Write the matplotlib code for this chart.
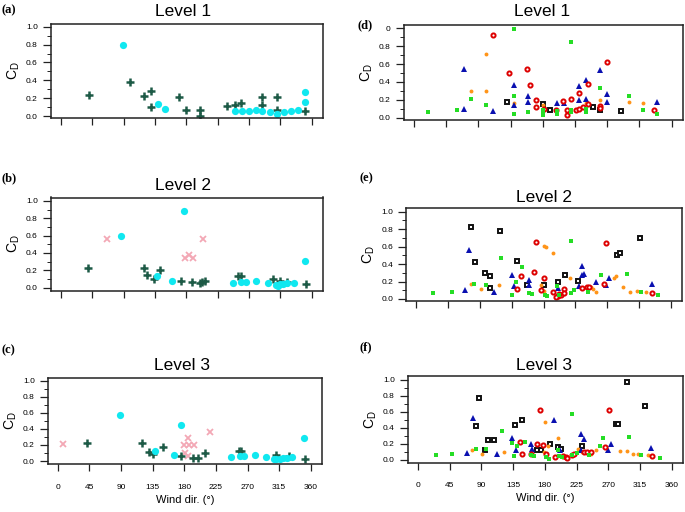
import matplotlib
matplotlib.use('Agg')
import matplotlib.pyplot as plt
import numpy as np

plt.rcParams['font.family'] = ['Liberation Sans', 'DejaVu Sans']

# ---- data (wind direction in deg, drag coefficient) ----
# left column: (a) level 1, (b) level 2, (c) level 3
a_plus_dir = [40, 99, 119, 130, 129, 169, 179, 200, 200, 239, 250, 259, 289, 289, 310, 310, 350]
a_plus_cd = [0.24, 0.38, 0.23, 0.28, 0.10, 0.22, 0.07, 0.07, 0.0, 0.11, 0.13, 0.15, 0.22, 0.12, 0.22, 0.07, 0.06]
a_cyan_dir = [89, 139, 149, 250, 260, 270, 280, 289, 300, 310, 320, 330, 340, 350, 350]
a_cyan_cd = [0.80, 0.14, 0.08, 0.06, 0.06, 0.06, 0.07, 0.06, 0.05, 0.03, 0.05, 0.06, 0.07, 0.16, 0.27]

b_plus_dir = [39, 119, 123, 133, 143, 173, 188, 200, 203, 207, 254, 259, 305, 314, 325, 352]
b_plus_cd = [0.23, 0.23, 0.15, 0.10, 0.20, 0.08, 0.06, 0.05, 0.06, 0.08, 0.13, 0.14, 0.10, 0.08, 0.06, 0.04]
b_cyan_dir = [87, 177, 138, 160, 247, 259, 266, 280, 297, 309, 311, 314, 319, 325, 335, 350]
b_cyan_cd = [0.60, 0.88, 0.13, 0.08, 0.05, 0.06, 0.06, 0.08, 0.05, 0.03, 0.02, 0.04, 0.04, 0.05, 0.05, 0.31]
b_pink_dir = [66, 178, 184, 190, 204]
b_pink_cd = [0.56, 0.34, 0.38, 0.34, 0.56]

c_plus_dir = [42, 120, 130, 135, 150, 176, 192, 200, 210, 258, 261, 311, 329, 352]
c_plus_cd = [0.23, 0.22, 0.11, 0.09, 0.17, 0.06, 0.04, 0.04, 0.10, 0.12, 0.12, 0.07, 0.06, 0.02]
c_cyan_dir = [89, 176, 138, 166, 247, 259, 265, 281, 297, 307, 311, 316, 321, 326, 334, 350]
c_cyan_cd = [0.57, 0.45, 0.12, 0.08, 0.05, 0.06, 0.06, 0.08, 0.05, 0.03, 0.02, 0.03, 0.04, 0.04, 0.05, 0.29]
c_pink_dir = [7, 185, 179, 186, 194, 181, 185, 216]
c_pink_cd = [0.21, 0.29, 0.195, 0.195, 0.195, 0.095, 0.066, 0.36]

# right column: (d) level 1, (e) level 2, (f) level 3
d_black_dir = [130, 180, 190, 250, 260, 290]
d_black_cd = [0.18, 0.15, 0.09, 0.12, 0.09, 0.08]
d_orange_dir = [100, 80, 100, 140, 180, 240, 260, 300, 320]
d_orange_cd = [0.71, 0.30, 0.30, 0.16, 0.14, 0.16, 0.20, 0.18, 0.16]
d_blue_dir = [70, 70, 110, 140, 140, 160, 160, 200, 210, 230, 230, 240, 240, 260, 270, 270, 340]
d_blue_cd = [0.55, 0.10, 0.08, 0.37, 0.14, 0.24, 0.18, 0.17, 0.17, 0.35, 0.20, 0.42, 0.21, 0.53, 0.26, 0.18, 0.18]
d_red_dir = [110, 133, 158, 162, 170, 170, 181, 198, 208, 214, 214, 220, 226, 230, 230, 236, 243, 243, 260, 260, 270, 336]
d_red_cd = [0.93, 0.50, 0.55, 0.37, 0.20, 0.12, 0.10, 0.09, 0.19, 0.09, 0.03, 0.21, 0.09, 0.28, 0.10, 0.12, 0.38, 0.15, 0.13, 0.11, 0.62, 0.09]
d_green_dir = [140, 220, 20, 60, 80, 100, 140, 140, 160, 180, 180, 180, 200, 200, 220, 220, 240, 240, 260, 300, 320, 340]
d_green_cd = [0.99, 0.85, 0.06, 0.09, 0.21, 0.14, 0.24, 0.04, 0.06, 0.09, 0.05, 0.03, 0.08, 0.04, 0.09, 0.06, 0.10, 0.06, 0.33, 0.24, 0.09, 0.04]

e_black_dir = [78, 119, 83, 97, 104, 104, 143, 156, 180, 201, 211, 229, 284, 288, 316]
e_black_cd = [0.82, 0.78, 0.42, 0.30, 0.26, 0.13, 0.44, 0.16, 0.16, 0.20, 0.27, 0.21, 0.50, 0.53, 0.70]
e_orange_dir = [181, 184, 193, 78, 92, 117, 177, 181, 217, 247, 250, 254, 280, 282, 292, 302, 313, 325]
e_orange_cd = [0.61, 0.59, 0.53, 0.17, 0.11, 0.16, 0.16, 0.09, 0.24, 0.14, 0.12, 0.08, 0.24, 0.26, 0.14, 0.08, 0.09, 0.08]
e_blue_dir = [74, 69, 110, 136, 138, 160, 160, 200, 230, 234, 234, 237, 254, 269, 272, 333]
e_blue_cd = [0.56, 0.10, 0.08, 0.28, 0.15, 0.22, 0.16, 0.13, 0.15, 0.38, 0.28, 0.29, 0.19, 0.16, 0.24, 0.17]
e_red_dir = [169, 269, 166, 148, 143, 180, 177, 193, 200, 205, 209, 209, 202, 198, 234, 241, 245, 265, 333]
e_red_cd = [0.65, 0.64, 0.31, 0.26, 0.12, 0.24, 0.10, 0.08, 0.04, 0.05, 0.12, 0.07, 0.06, 0.02, 0.13, 0.14, 0.14, 0.17, 0.07]
e_green_dir = [219, 120, 149, 141, 81, 98, 24, 51, 135, 160, 164, 182, 185, 199, 202, 219, 223, 243, 262, 298, 318, 342]
e_green_cd = [0.67, 0.47, 0.37, 0.20, 0.17, 0.16, 0.07, 0.08, 0.05, 0.07, 0.06, 0.05, 0.03, 0.15, 0.05, 0.07, 0.10, 0.08, 0.28, 0.29, 0.08, 0.05]

f_black_dir = [296, 86, 322, 82, 138, 147, 281, 284, 99, 108, 95, 169, 174, 188, 199, 203, 233]
f_black_cd = [0.97, 0.78, 0.67, 0.42, 0.44, 0.50, 0.45, 0.45, 0.25, 0.25, 0.12, 0.12, 0.12, 0.20, 0.16, 0.14, 0.18]
f_orange_dir = [180, 77, 91, 122, 184, 179, 199, 227, 233, 245, 252, 286, 296, 305, 312, 327]
f_orange_cd = [0.47, 0.13, 0.08, 0.10, 0.17, 0.10, 0.28, 0.14, 0.10, 0.08, 0.12, 0.11, 0.11, 0.08, 0.07, 0.06]
f_blue_dir = [78, 193, 70, 112, 134, 139, 160, 162, 232, 236, 232, 274, 270, 330, 202]
f_blue_cd = [0.53, 0.50, 0.09, 0.07, 0.27, 0.13, 0.20, 0.14, 0.32, 0.26, 0.13, 0.20, 0.13, 0.15, 0.12]
f_red_dir = [173, 271, 145, 147, 169, 178, 160, 181, 195, 206, 210, 212, 218, 222, 235, 240, 246, 266, 332]
f_red_cd = [0.62, 0.63, 0.23, 0.08, 0.20, 0.19, 0.07, 0.07, 0.04, 0.05, 0.04, 0.02, 0.06, 0.07, 0.10, 0.10, 0.10, 0.16, 0.05]
f_green_dir = [219, 120, 299, 263, 133, 152, 140, 82, 97, 26, 48, 136, 160, 165, 181, 186, 199, 200, 205, 218, 226, 242, 258, 317, 343]
f_green_cd = [0.58, 0.36, 0.29, 0.28, 0.21, 0.23, 0.18, 0.14, 0.14, 0.06, 0.07, 0.05, 0.06, 0.05, 0.04, 0.01, 0.13, 0.05, 0.04, 0.06, 0.09, 0.06, 0.18, 0.06, 0.03]

dir_ticks = [0, 45, 90, 135, 180, 225, 270, 315, 360]
cd_ticks = [0.0, 0.2, 0.4, 0.6, 0.8, 1.0]

# ---- figure ----
W, H = 685, 512
fig = plt.figure(figsize=(W / 100, H / 100), dpi=100)


def add_ax(l, t, r, b):
    # axes placed in pixel coords (from top-left)
    return fig.add_axes([l / W, 1 - b / H, (r - l) / W, (b - t) / H])


def style_ax(ax, ylim, show_x=False, top_label='1.0'):
    ax.set_xlim(-14, 376)
    ax.set_ylim(*ylim)
    for s in ax.spines.values():
        s.set_linewidth(1.1)
        s.set_color('#222222')
    ax.set_xticks(dir_ticks)
    ax.set_yticks(cd_ticks)
    ax.set_yticks(np.arange(0.1, 1.0, 0.2), minor=True)
    labels = ['%.1f' % v for v in cd_ticks]
    labels[-1] = top_label
    ax.set_yticklabels(labels)
    ax.tick_params(axis='both', direction='out', width=0.9, color='#222222', labelsize=6)
    ax.tick_params(axis='y', which='major', length=5.5, pad=4)
    ax.tick_params(axis='y', which='minor', length=3)
    ax.tick_params(axis='x', length=5, pad=9)
    if show_x:
        ax.set_xticklabels([str(v) for v in dir_ticks])
        ax.set_xlabel('Wind dir. (°)', fontsize=8, labelpad=3)
    else:
        ax.set_xticklabels([])
    ax.set_ylabel('C$_\\mathregular{D}$', fontsize=10, labelpad=3)


def left_panel(ax, plus, cyan, pink=None):
    if pink is not None:
        ax.plot(pink[0], pink[1], linestyle='none', marker='x', ms=4, mew=1.3, color='#f3a8b5')
    ax.plot(plus[0], plus[1], linestyle='none', marker='+', ms=6, mew=1.8, color='#1d5a46')
    ax.plot(cyan[0], cyan[1], linestyle='none', marker='o', ms=5.2, mew=0, color='#10e8f0')


def right_panel(ax, black, orange, blue, red, green):
    ax.plot(black[0], black[1], linestyle='none', marker='s', ms=3.0, mfc='white', mec='#111111', mew=1.4)
    ax.plot(orange[0], orange[1], linestyle='none', marker='o', ms=2.8, mew=0, color='#ff9418')
    ax.plot(blue[0], blue[1], linestyle='none', marker='^', ms=3.8, mew=0, color='#0a10b0')
    ax.plot(red[0], red[1], linestyle='none', marker='o', ms=3.0, mfc='white', mec='#dd0000', mew=1.4)
    ax.plot(green[0], green[1], linestyle='none', marker='s', ms=3.2, mew=0, color='#25dd25')


# left column
ax_a = add_ax(51, 24, 323, 118)
left_panel(ax_a, (a_plus_dir, a_plus_cd), (a_cyan_dir, a_cyan_cd))
style_ax(ax_a, (-0.02, 1.03))

ax_b = add_ax(51, 197.5, 323, 290.7)
left_panel(ax_b, (b_plus_dir, b_plus_cd), (b_cyan_dir, b_cyan_cd), (b_pink_dir, b_pink_cd))
style_ax(ax_b, (-0.035, 1.04))

ax_c = add_ax(48, 377.7, 322, 464.3)
left_panel(ax_c, (c_plus_dir, c_plus_cd), (c_cyan_dir, c_cyan_cd), (c_pink_dir, c_pink_cd))
style_ax(ax_c, (-0.04, 1.036), show_x=True)

# right column
ax_d = add_ax(404, 24.7, 683, 120)
right_panel(ax_d, (d_black_dir, d_black_cd), (d_orange_dir, d_orange_cd), (d_blue_dir, d_blue_cd),
            (d_red_dir, d_red_cd), (d_green_dir, d_green_cd))
style_ax(ax_d, (-0.025, 1.04), top_label='0')

ax_e = add_ax(406.5, 207.7, 682, 301)
right_panel(ax_e, (e_black_dir, e_black_cd), (e_orange_dir, e_orange_cd), (e_blue_dir, e_blue_cd),
            (e_red_dir, e_red_cd), (e_green_dir, e_green_cd))
style_ax(ax_e, (-0.023, 1.046))

ax_f = add_ax(408, 376, 683, 462.7)
right_panel(ax_f, (f_black_dir, f_black_cd), (f_orange_dir, f_orange_cd), (f_blue_dir, f_blue_cd),
            (f_red_dir, f_red_cd), (f_green_dir, f_green_cd))
style_ax(ax_f, (-0.034, 1.05), show_x=True)

# titles and panel letters (pixel positions)
titles = [(183, 12, 'Level 1'), (183, 185, 'Level 2'), (182, 365, 'Level 3'),
          (542, 12, 'Level 1'), (544, 197, 'Level 2'), (544, 365, 'Level 3')]
for x, y, t in titles:
    fig.text(x / W, 1 - y / H, t, ha='center', va='center', fontsize=12.5)

letters = [(2, 10, '(a)'), (2, 178, '(b)'), (2, 350, '(c)'),
           (357, 25, '(d)'), (360, 178, '(e)'), (360, 347, '(f)')]
for x, y, t in letters:
    fig.text(x / W, 1 - y / H, t, ha='left', va='center', fontsize=9,
             fontweight='bold', family=['Liberation Serif', 'DejaVu Serif'])

fig.savefig('out.png', dpi=100)
